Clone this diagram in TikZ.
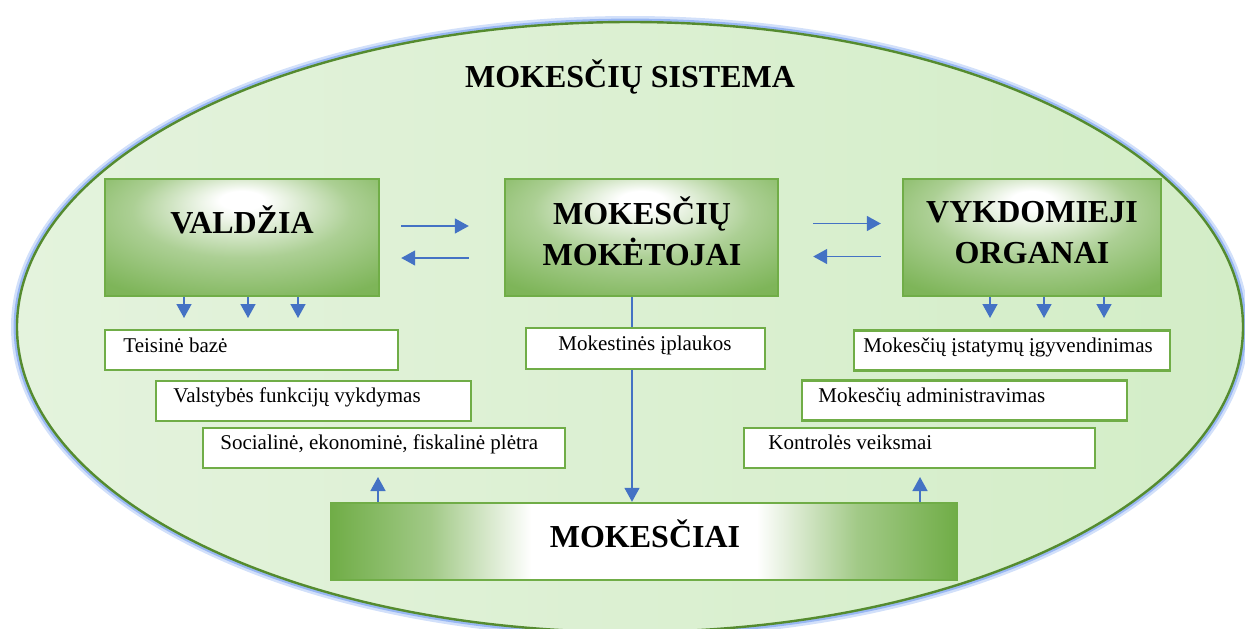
\documentclass[tikz,border=0pt]{standalone}
\usepackage{fontspec}
\setmainfont{Liberation Serif}
\usetikzlibrary{arrows.meta,calc}
\definecolor{boxgreen}{HTML}{70AD47}
\definecolor{ellborder}{HTML}{558B2F}
\definecolor{ellfillL}{HTML}{E4F3DD}
\definecolor{ellfillR}{HTML}{D3EDC7}
\definecolor{arrblue}{HTML}{4472C4}
\definecolor{glowblue}{HTML}{7FA6F0}
\pgfdeclareradialshading{boxglow}{\pgfpoint{0bp}{17bp}}{color(0bp)=(white); color(4bp)=(white); color(20bp)=(boxgreen!58); color(36bp)=(boxgreen!90); color(60bp)=(boxgreen)}
\pgfdeclarehorizontalshading{barshade}{100bp}{color(0bp)=(boxgreen); color(25bp)=(boxgreen); color(33bp)=(boxgreen!65); color(41bp)=(white); color(59bp)=(white); color(67bp)=(boxgreen!65); color(75bp)=(boxgreen); color(100bp)=(boxgreen)}
\begin{document}
\begin{tikzpicture}[x=0.5pt,y=-0.5pt,
  bigbox/.style={draw=boxgreen, line width=1.2pt, shading=boxglow, inner sep=0pt},
  barbox/.style={draw=boxgreen, line width=1.2pt, shading=barshade, inner sep=0pt},
  smallbox/.style={draw=boxgreen, line width=1.4pt, fill=white, inner sep=0pt, minimum height=20pt},
  headtext/.style={font=\fontsize{16pt}{20.5pt}\selectfont\bfseries, align=center, inner sep=0pt},
  smalltext/.style={font=\fontsize{10.5pt}{12pt}\selectfont, inner sep=0pt},
  arr/.style={draw=arrblue, line width=0.75pt, -{Triangle[length=7pt,width=7.5pt]}},
  link/.style={draw=arrblue, line width=0.75pt}]
\useasboundingbox (0,0) rectangle (1245,628);

% outer ellipse with glow
\draw[glowblue, opacity=0.35, line width=3pt] (630,327) ellipse [x radius=308pt, y radius=154pt];
\draw[glowblue, opacity=0.7, line width=1.8pt] (630,327) ellipse [x radius=307.3pt, y radius=153.3pt];
\path[left color=ellfillL, right color=ellfillR] (630,327) ellipse [x radius=306.5pt, y radius=152.5pt];
\draw[ellborder, line width=1.2pt] (630,327) ellipse [x radius=306.5pt, y radius=152.5pt];

\node[font=\fontsize{16pt}{19pt}\selectfont\bfseries, anchor=base, inner sep=0pt] (title) at (630,87) {MOKESČIŲ SISTEMA};

% big boxes
\node[bigbox, minimum width=137pt, minimum height=58.5pt] (valdzia) at (242,237.5) {};
\node[headtext, anchor=base] (valdzia-t) at (242,233) {VALDŽIA};
\node[bigbox, minimum width=136.5pt, minimum height=58.5pt] (moket) at (641.5,237.5) {};
\node[headtext, anchor=base] (moket-t) at (642,265) {MOKESČIŲ\\MOKĖTOJAI};
\node[bigbox, minimum width=129pt, minimum height=58.5pt] (vykd) at (1032,237.5) {};
\node[headtext, anchor=base] (vykd-t) at (1032,263) {VYKDOMIEJI\\ORGANAI};
\node[barbox, minimum width=313pt, minimum height=38.5pt] (mok) at (644,541.5) {};
\node[headtext, anchor=base] (mok-t) at (645,547) {MOKESČIAI};

% small boxes
\node[smallbox, minimum width=146.5pt] (teis) at (251.5,350) {};
\node[smalltext, anchor=base west] (teis-t) at (123,352) {Teisinė bazė};
\node[smallbox, minimum width=157.5pt] (valst) at (313.5,401) {};
\node[smalltext, anchor=base west] (valst-t) at (173,402) {Valstybės funkcijų vykdymas};
\node[smallbox, minimum width=181pt] (soc) at (384,448) {};
\node[smalltext, anchor=base west] (soc-t) at (220,449) {Socialinė, ekonominė, fiskalinė plėtra};
\node[smallbox, minimum width=119.5pt, minimum height=20.5pt] (iplauk) at (645.5,348.5) {};
\node[smalltext, anchor=base] (iplauk-t) at (645,350) {Mokestinės įplaukos};
\node[smallbox, minimum width=158pt] (istat) at (1012,350.5) {};
\node[smalltext, anchor=base west] (istat-t) at (863,352) {Mokesčių įstatymų įgyvendinimas};
\node[smallbox, minimum width=162.5pt] (admin) at (964.5,400.5) {};
\node[smalltext, anchor=base west] (admin-t) at (818,402) {Mokesčių administravimas};
\node[smallbox, minimum width=175.5pt] (kontr) at (919.5,448) {};
\node[smalltext, anchor=base west] (kontr-t) at (768,449) {Kontrolės veiksmai};

% horizontal arrows
\draw[arr, shorten <=10.5pt, shorten >=17.5pt] ([yshift=5.75pt]valdzia.east) -- ([yshift=5.75pt]moket.west);
\draw[arr, shorten <=17.5pt, shorten >=10.5pt] ([yshift=-10.25pt]moket.west) -- ([yshift=-10.25pt]valdzia.east);
\draw[arr, shorten <=17pt, shorten >=10.5pt] ([yshift=7pt]moket.east) -- ([yshift=7pt]vykd.west);
\draw[arr, shorten <=10.5pt, shorten >=17pt] ([yshift=-9.5pt]vykd.west) -- ([yshift=-9.5pt]moket.east);

% down arrows
\coordinate (d1) at (184,318);
\coordinate (d2) at (248,318);
\coordinate (d3) at (298,318);
\coordinate (d4) at (990,318);
\coordinate (d5) at (1044,318);
\coordinate (d6) at (1104,318);
\foreach \d in {d1,d2,d3} \draw[arr] (\d |- valdzia.south) -- (\d);
\foreach \d in {d4,d5,d6} \draw[arr] (\d |- vykd.south) -- (\d);

% centre line
\coordinate (cx) at (632,0);
\draw[link] (cx |- moket.south) -- (cx |- iplauk.north);
\draw[arr] (cx |- iplauk.south) -- (cx |- mok.north);

% up arrows
\coordinate (u1) at (378,477);
\coordinate (u2) at (920,477);
\draw[arr] (u1 |- mok.north) -- (u1);
\draw[arr] (u2 |- mok.north) -- (u2);
\end{tikzpicture}
\end{document}
